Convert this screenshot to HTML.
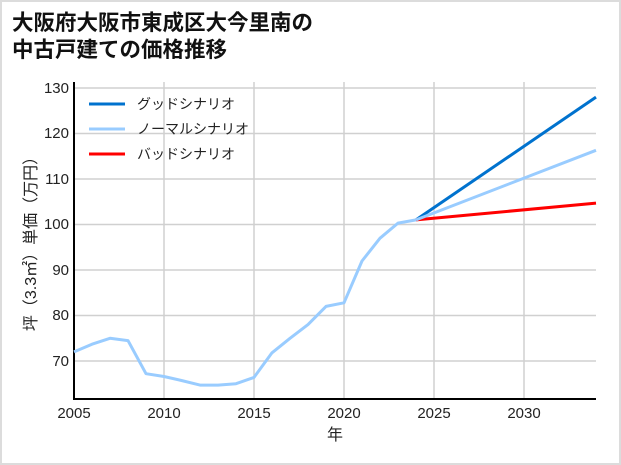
<!DOCTYPE html>
<html><head><meta charset="utf-8"><style>
body{margin:0;background:#fff;}
.w{position:relative;width:617px;height:461px;border:2px solid #dcdcdc;background:#fff;font-family:"Liberation Sans","Noto Sans CJK JP",sans-serif;}
</style></head><body><div class="w">
<svg width="621" height="465" style="position:absolute;left:-2px;top:-2px" font-family="Liberation Sans, Noto Sans CJK JP, sans-serif">
<text x="12" y="30" font-size="21.5" font-weight="bold" fill="#111">大阪府大阪市東成区大今里南の</text>
<text x="12" y="57" font-size="21.5" font-weight="bold" fill="#111">中古戸建ての価格推移</text>
<g stroke="#d0d0d0" stroke-width="1.5">
<line x1="164" y1="82" x2="164" y2="399"/><line x1="254" y1="82" x2="254" y2="399"/><line x1="344" y1="82" x2="344" y2="399"/><line x1="434" y1="82" x2="434" y2="399"/><line x1="524" y1="82" x2="524" y2="399"/>
<line x1="74" y1="88" x2="596" y2="88"/><line x1="74" y1="133.5" x2="596" y2="133.5"/><line x1="74" y1="179" x2="596" y2="179"/><line x1="74" y1="224.5" x2="596" y2="224.5"/><line x1="74" y1="270" x2="596" y2="270"/><line x1="74" y1="315.5" x2="596" y2="315.5"/><line x1="74" y1="361" x2="596" y2="361"/>
</g>
<g stroke="#000" stroke-width="2"><line x1="74" y1="82" x2="74" y2="400"/><line x1="73" y1="399" x2="596" y2="399"/></g>
<g font-size="15" fill="#222" text-anchor="end">
<text x="69" y="93">130</text><text x="69" y="138">120</text><text x="69" y="184">110</text><text x="69" y="229">100</text><text x="69" y="275">90</text><text x="69" y="320">80</text><text x="69" y="366">70</text>
</g>
<g font-size="15" fill="#222" text-anchor="middle">
<text x="74" y="418">2005</text><text x="164" y="418">2010</text><text x="254" y="418">2015</text><text x="344" y="418">2020</text><text x="434" y="418">2025</text><text x="524" y="418">2030</text>
<text x="335" y="440" font-size="16">年</text>
</g>
<text transform="translate(36,240) rotate(-90)" font-size="16" fill="#222" text-anchor="middle">坪（3.3㎡）単価（万円）</text>
<g fill="none" stroke-width="3" stroke-linejoin="round">
<polyline stroke="#0072ce" points="416,219.9 596,97.1"/>
<polyline stroke="#ff0000" points="416,219.9 596,203.1"/>
<polyline stroke="#99ccff" points="416,219.9 596,150.3"/>
<polyline stroke="#99ccff" points="74,351.9 92,344.2 110,338.3 128,340.6 146,373.7 164,376.5 182,380.6 200,385.1 218,385.1 236,383.7 254,377.4 272,352.8 290,338.3 308,324.6 326,306.4 344,302.8 362,261 380,238.2 398,223.1 416,219.9"/>
</g>
<g stroke-width="3"><line x1="89" y1="104" x2="125" y2="104" stroke="#0072ce"/><line x1="89" y1="129" x2="125" y2="129" stroke="#99ccff"/><line x1="89" y1="154" x2="125" y2="154" stroke="#ff0000"/></g>
<g font-size="14" fill="#222"><text x="137" y="109">グッドシナリオ</text><text x="137" y="134">ノーマルシナリオ</text><text x="137" y="159">バッドシナリオ</text></g>
</svg></div></body></html>
